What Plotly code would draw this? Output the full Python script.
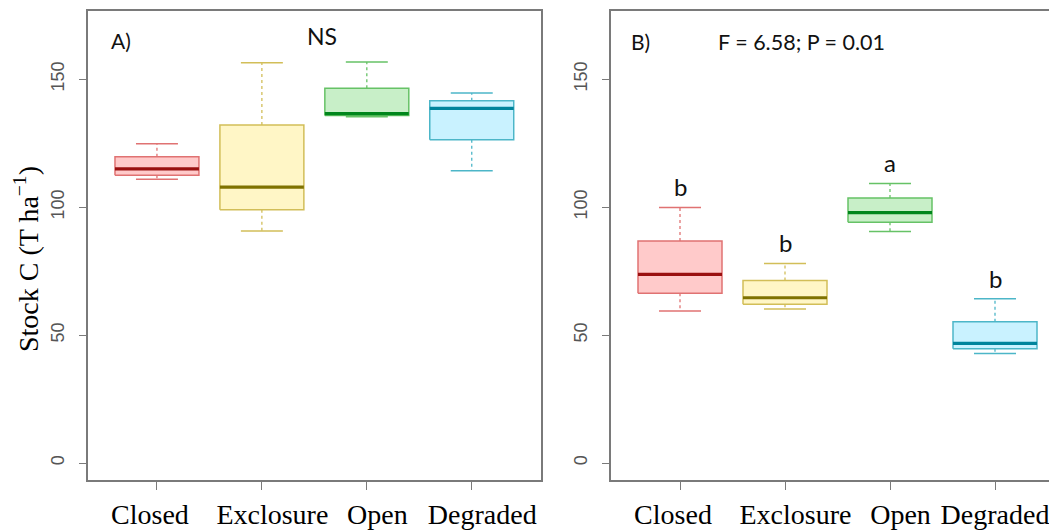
import plotly.graph_objects as go

# ---- data ----
sites = ["Closed", "Exclosure", "Open", "Degraded"]

# Panel A: whisker low, Q1, median, Q3, whisker high
a_low = [110.9, 90.7, 135.3, 114.2]
a_q1 = [112.5, 99.0, 135.8, 126.4]
a_med = [115.0, 107.8, 136.6, 138.6]
a_q3 = [119.7, 132.1, 146.5, 141.6]
a_high = [124.8, 156.5, 156.7, 144.6]

# Panel B
b_low = [59.4, 60.2, 90.5, 42.8]
b_q1 = [66.4, 62.1, 94.1, 44.7]
b_med = [73.7, 64.6, 97.9, 46.8]
b_q3 = [86.8, 71.3, 103.6, 55.2]
b_high = [99.9, 78.0, 109.3, 64.2]
b_letters = ["b", "b", "a", "b"]

y_ticks = [0, 50, 100, 150]

# ---- styles ----
fills = ["#FFCACA", "#FFF6C6", "#C8EFC8", "#C9F2FF"]
borders = ["#E07272", "#D2BE58", "#66C266", "#4CB6C8"]
medians = ["#9A1010", "#7F7200", "#00861C", "#00849C"]
BOX_W = 0.8
CAP_W = 0.4
AXIS_COL = "#7A7A7A"
NB = "\u00a0"
# the reference's category labels sit slightly off their ticks
pad_a = [("", NB * 2), (NB * 3, ""), (NB * 3, ""), (NB * 3, "")]
pad_b = [("", NB * 2), (NB * 3, ""), (NB * 3, ""), ("", "")]
tick_text_a = [pre + s + post for s, (pre, post) in zip(sites, pad_a)]
tick_text_b = [pre + s + post for s, (pre, post) in zip(sites, pad_b)]

fig = go.Figure()


def add_panel(xref, yref, low, q1, med, q3, high):
    for i, name in enumerate(sites):
        x = i + 1
        hw = BOX_W / 2
        cw = CAP_W / 2
        # whiskers (dashed)
        fig.add_trace(go.Scatter(
            x=[x, x, None, x, x], y=[q3[i], high[i], None, q1[i], low[i]],
            mode="lines", line=dict(color=borders[i], width=1.3, dash="3px,3px"),
            xaxis=xref, yaxis=yref, showlegend=False, hoverinfo="skip"))
        # caps
        fig.add_trace(go.Scatter(
            x=[x - cw, x + cw, None, x - cw, x + cw],
            y=[high[i], high[i], None, low[i], low[i]],
            mode="lines", line=dict(color=borders[i], width=1.5),
            xaxis=xref, yaxis=yref, showlegend=False, hoverinfo="skip"))
        # box body
        fig.add_trace(go.Scatter(
            x=[x - hw, x + hw, x + hw, x - hw, x - hw],
            y=[q1[i], q1[i], q3[i], q3[i], q1[i]],
            mode="lines", fill="toself", fillcolor=fills[i],
            line=dict(color=borders[i], width=1.5),
            xaxis=xref, yaxis=yref, showlegend=False, name=name))
        # median
        fig.add_trace(go.Scatter(
            x=[x - hw, x + hw], y=[med[i], med[i]],
            mode="lines", line=dict(color=medians[i], width=3.2),
            xaxis=xref, yaxis=yref, showlegend=False, hoverinfo="skip"))


add_panel("x", "y", a_low, a_q1, a_med, a_q3, a_high)
add_panel("x2", "y2", b_low, b_q1, b_med, b_q3, b_high)

# page body has an 8px margin, so the figure is sized to fill the rest
OFF = 8
W, H = 1057 - OFF, 530 - OFF
y_dom = [(H - (480.4 - OFF)) / H, (H - (10.7 - OFF)) / H]
y_range = [-6.8, 176.8]

xaxis_common = dict(
    tickmode="array", tickvals=[1, 2, 3, 4],
    ticks="outside", ticklen=8, tickwidth=1.3, tickcolor=AXIS_COL,
    showline=True, linecolor=AXIS_COL, linewidth=1.6,
    showgrid=False, zeroline=False, automargin=False,
    tickangle=0, ticklabeloverflow="allow",
    tickfont=dict(family="Liberation Serif", size=28, color="#000000"),
    ticklabelstandoff=0,
)
yaxis_common = dict(
    range=y_range, domain=y_dom,
    tickmode="array", tickvals=y_ticks,
    ticks="outside", ticklen=7, tickwidth=1.3, tickcolor=AXIS_COL,
    showline=True, linecolor=AXIS_COL, linewidth=1.6,
    showgrid=False, zeroline=False, automargin=False,
    tickangle=-90,
    tickfont=dict(family="Liberation Sans", size=18, color="#555555"),
    ticklabelstandoff=8,
)

fig.update_layout(
    width=W, height=H,
    margin=dict(l=0, r=0, t=0, b=0),
    paper_bgcolor="white", plot_bgcolor="white",
    xaxis=dict(xaxis_common, ticktext=tick_text_a,
               domain=[(87.7 - OFF) / W, (541 - OFF) / W],
               range=[0.34, 4.66], mirror=True, anchor="y"),
    yaxis=dict(yaxis_common, mirror=True, anchor="x"),
    xaxis2=dict(xaxis_common, ticktext=tick_text_b,
                domain=[(610.7 - OFF) / W, 1.0],
                range=[0.34, 0.34 + (W - (610.7 - OFF)) / 105.0],
                mirror=True, anchor="y2"),
    yaxis2=dict(yaxis_common, mirror=False, anchor="x2"),
)

ann_font = dict(family="Lato", size=21, color="#111111")
annotations = [
    dict(text="A)", x=0.654, y=165.0, xref="x", yref="y", showarrow=False,
         font=ann_font),
    dict(text="NS", x=2.57, y=166.8, xref="x", yref="y", showarrow=False,
         font=dict(ann_font, size=23)),
    dict(text="B)", x=0.62, y=164.6, xref="x2", yref="y2", showarrow=False,
         font=ann_font),
    dict(text="F = 6.58; P = 0.01", x=2.16, y=164.6, xref="x2", yref="y2",
         showarrow=False, font=dict(ann_font, size=21.5)),
    dict(text="Stock C (T ha<sup>\u22121</sup>)",
         x=(27 - OFF) / W, y=(H - (259 - OFF)) / H,
         xref="paper", yref="paper", xanchor="center", yanchor="middle",
         textangle=-90, showarrow=False,
         font=dict(family="Liberation Serif", size=28, color="#000000")),
]
for i, letter in enumerate(b_letters):
    annotations.append(dict(
        text=letter, x=i + 1, y=b_high[i], xref="x2", yref="y2",
        yanchor="bottom", yshift=4, showarrow=False,
        font=dict(family="Lato", size=24, color="#111111")))
fig.update_layout(annotations=annotations)

fig.write_html("out.html")
